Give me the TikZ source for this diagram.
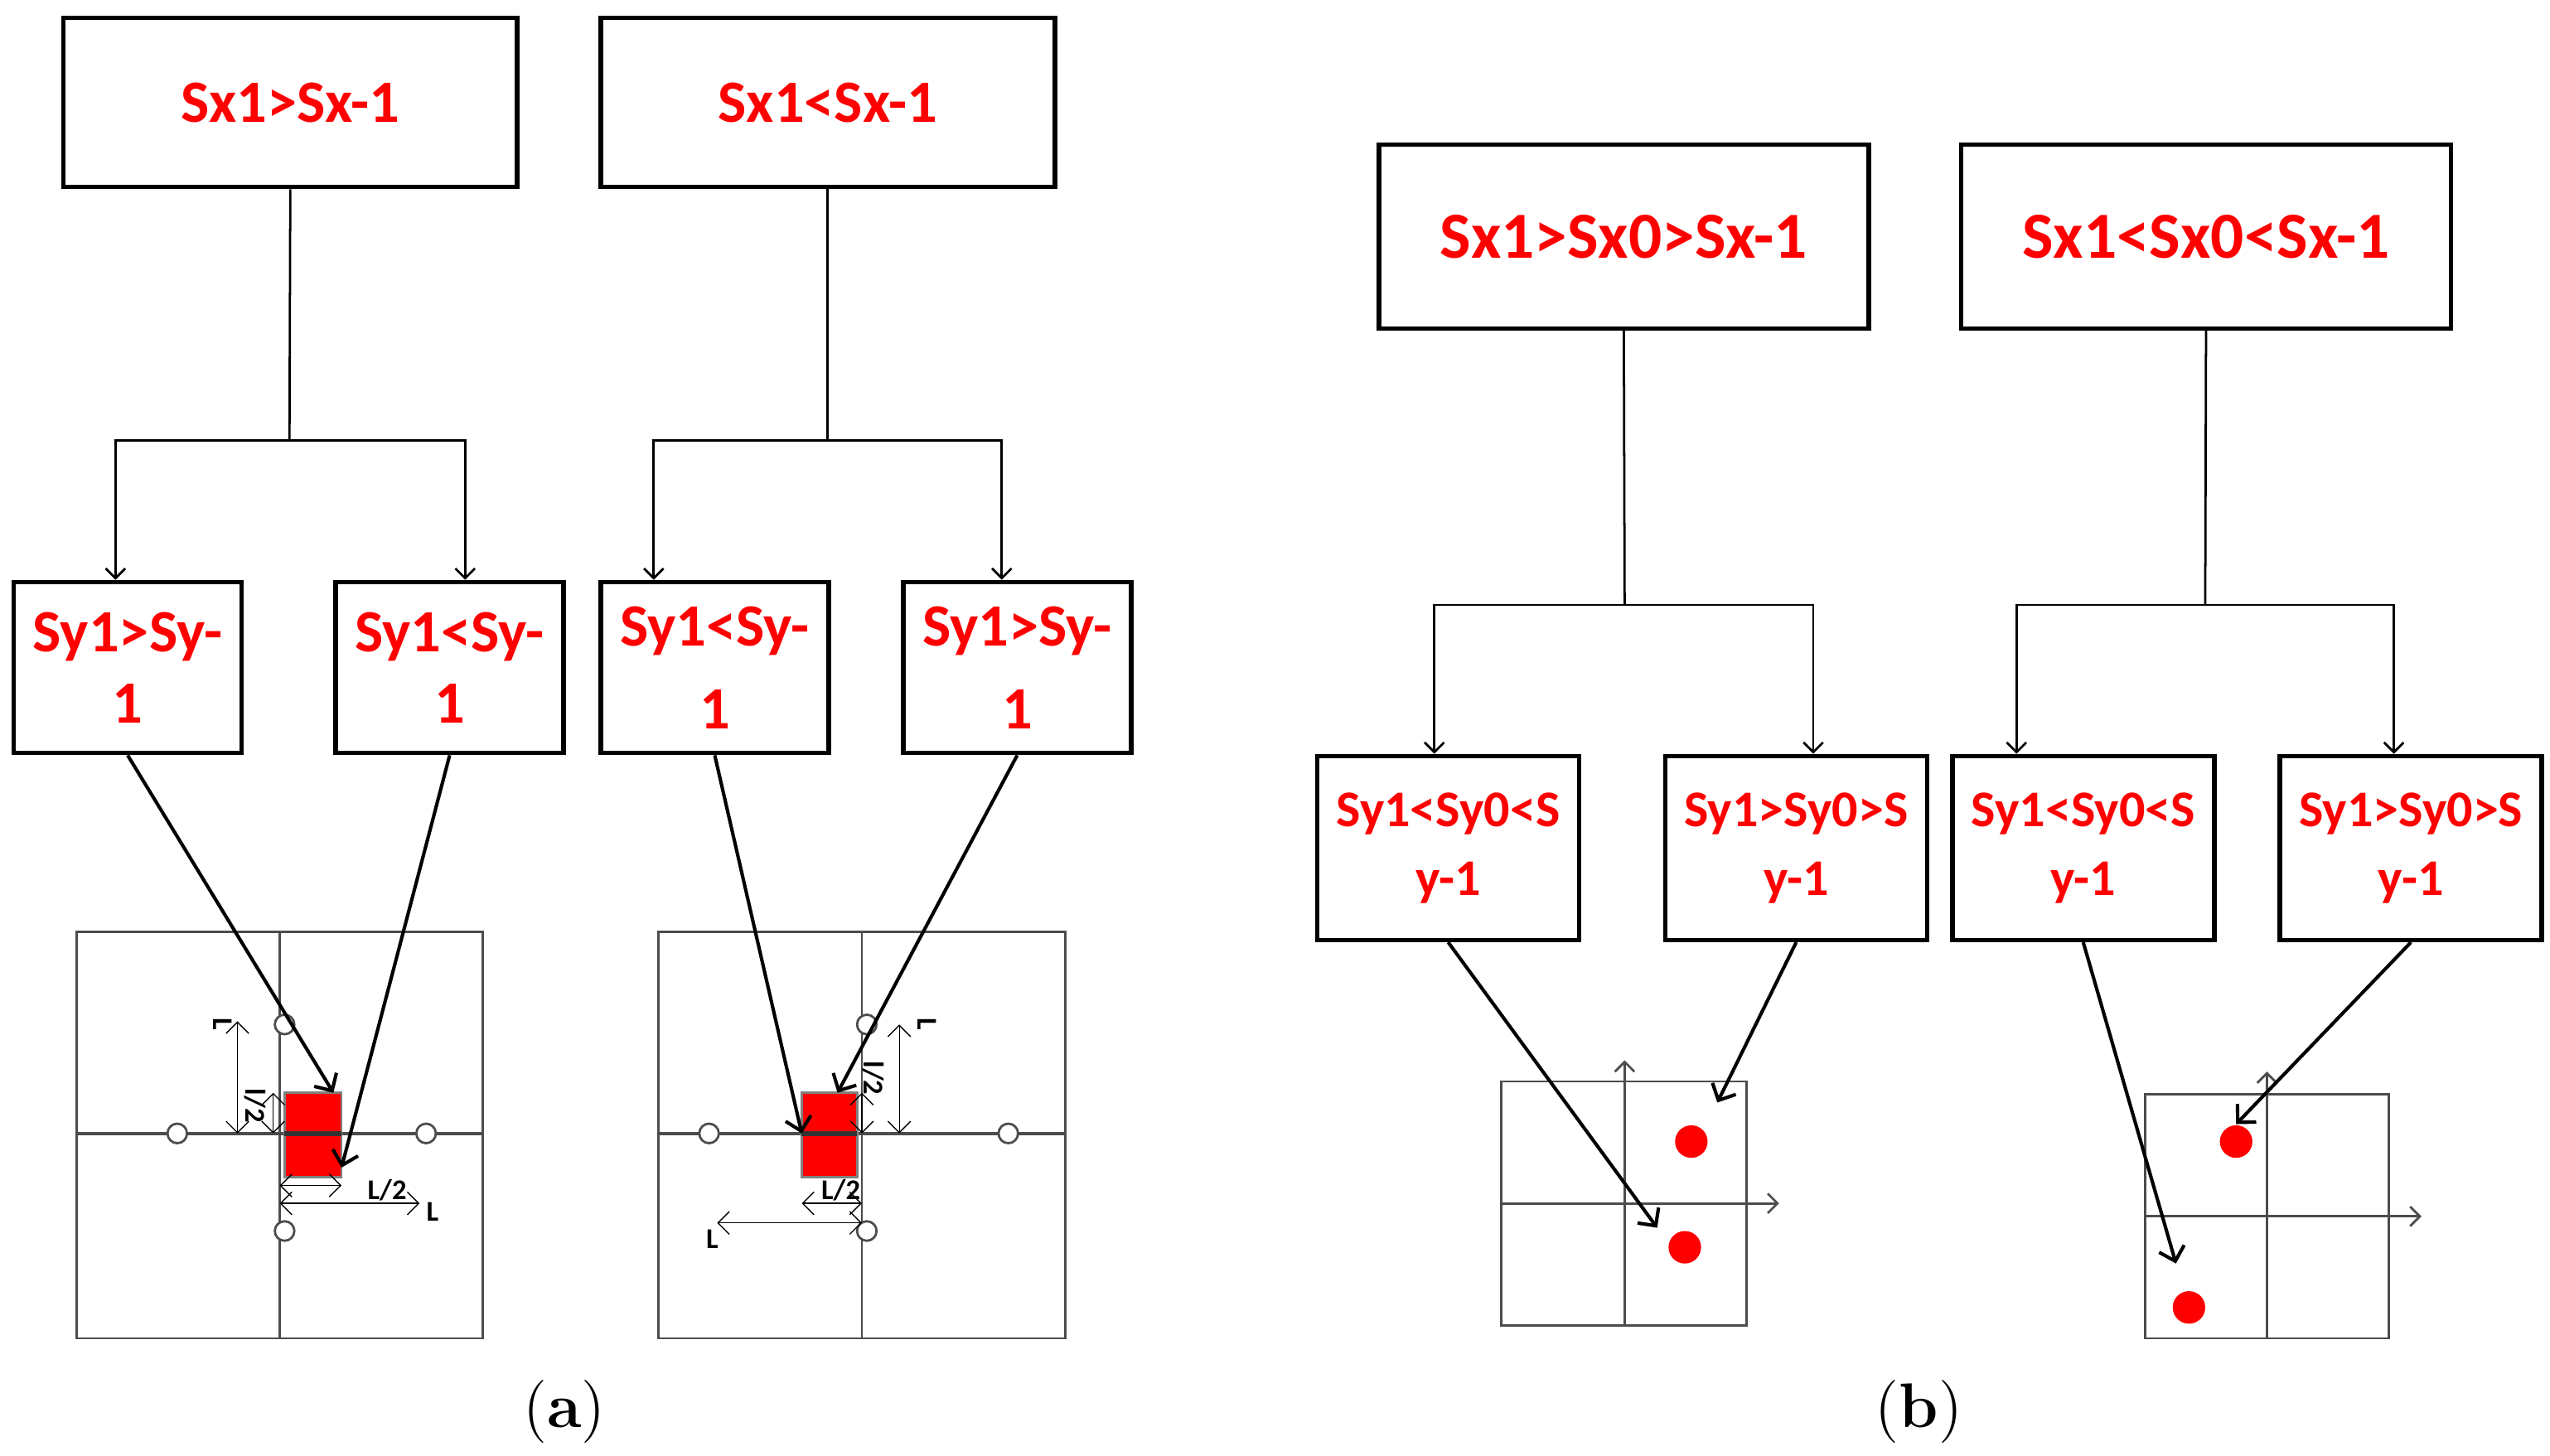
\documentclass[tikz,border=0pt]{standalone}
\usepackage{fontspec}
\newfontfamily\carlito{Carlito}
\usetikzlibrary{positioning,arrows.meta}
\tikzset{%
  tbox/.style = {rectangle,draw,thick,minimum width=2.79cm,minimum height=1.04cm,
        font=\carlito\bfseries\fontsize{10.5}{11}\selectfont,text=red},
  cbox/.style = {rectangle,draw,thick,minimum width=1.39cm,minimum height=1.05cm,
        font=\carlito\bfseries\fontsize{10.5}{12.5}\selectfont,text=red,align=center},
  wbox/.style = {rectangle,draw,thick,minimum width=3.01cm,minimum height=1.13cm,
        font=\carlito\bfseries\fontsize{11.5}{12}\selectfont,text=red},
  vbox/.style = {rectangle,draw,thick,minimum width=1.51cm,minimum height=1.13cm,
        font=\carlito\bfseries\fontsize{9}{12}\selectfont,text=red,align=center},
  tip/.style = {-{Straight Barb[length=0.6mm]},thin},
  link/.style = {-{Straight Barb[length=0.8mm]},semithick},
  dim/.style = {{Straight Barb[length=0.7mm]}-{Straight Barb[length=0.7mm]},very thin},
  grid/.style = {draw=black!70,thin},
  hole/.style = {circle,draw=black!70,fill=white,inner sep=0pt,minimum size=0.12cm},
  dot/.style = {circle,fill=red,inner sep=0pt,minimum size=0.2cm},
  tag/.style = {font=\carlito\bfseries\fontsize{5}{5}\selectfont,inner sep=0.5pt}
}
\begin{document}
\begin{tikzpicture}[x=0.01cm,y=-0.01cm]
\useasboundingbox (0,0) rectangle (1568,895);
% part (a)
\node[tbox] (sxa) at (178.5,63) {Sx1>Sx-1};
\node[tbox] (sxb) at (509,63) {Sx1<Sx-1};
\node[cbox] (sya) at (78.5,410.5) {Sy1>Sy-\\1};
\node[cbox] (syb) at (276.5,410.5) {Sy1<Sy-\\1};
\node[cbox] (syc) at (439.5,410.5) {Sy1<Sy-\\[2pt]1};
\node[cbox] (syd) at (625.5,410.5) {Sy1>Sy-\\[2pt]1};
\draw (sxa.south) -- (178,271) coordinate (ja);
\draw[tip] (ja) -| ([xshift=-0.075cm]sya.north);
\draw[tip] (ja) -| ([xshift=0.095cm]syb.north);
\draw (sxb.south) -- (509,271) coordinate (jb);
\draw[tip] (jb) -| ([xshift=-0.375cm]syc.north);
\draw[tip] (jb) -| ([xshift=-0.095cm]syd.north);
% grids
\foreach \gx in {47,405}{
  \draw[grid] (\gx,573) rectangle ++(250,250);
  \draw[grid] (\gx+125,573) -- ++(0,250);
  \draw[grid,semithick] (\gx,697) -- ++(250,0);
}
\node[rectangle,fill=red,draw=black!50,minimum width=0.35cm,minimum height=0.52cm,inner sep=0pt] (ra) at (192.5,698) {};
\node[rectangle,fill=red,draw=black!50,minimum width=0.34cm,minimum height=0.52cm,inner sep=0pt] (rb) at (510,698) {};
\draw[black!80,thick] (175,697) -- (210,697) (493,697) -- (527,697);
\foreach \n/\p in {a1/{175,630},a2/{109,697},a3/{262,697},a4/{175,757},
                   b1/{533,630},b2/{436,697},b3/{620,697},b4/{533,757}}
  \node[hole] (h\n) at (\p) {};
% dimensions left grid
\draw[dim] (146,628) -- (146,697);
\node[tag,rotate=-90] at (137,630) {L};
\draw[dim] (168,672) -- (168,697);
\node[tag,rotate=-90] at (157,680) {l/2};
\draw[dim] (172,729) -- (210,729);
\node[tag] at (238,732) {L/2};
\draw[dim] (172,740) -- (258,740);
\node[tag] at (266,745) {L};
% dimensions right grid
\draw[dim] (553,630) -- (553,697);
\node[tag,rotate=-90] at (570,630) {L};
\draw[dim] (530,672) -- (530,697);
\node[tag,rotate=-90] at (537,663) {l/2};
\draw[dim] (493,740) -- (530,740);
\node[tag] at (517,732) {L/2};
\draw[dim] (441,752) -- (530,752);
\node[tag] at (438,762) {L};
\coordinate (ea) at (205,672);
\coordinate (eb) at (210,718);
\coordinate (ec) at (493,697);
\coordinate (ed) at (515,672);
\draw[link] (sya.south) -- (ea);
\draw[link] (syb.south) -- (eb);
\draw[link] (syc.south) -- (ec);
\draw[link] (syd.south) -- (ed);
% part (b)
\node[wbox] (sxc) at (998.5,145.5) {Sx1>Sx0>Sx-1};
\node[wbox] (sxd) at (1356.5,145.5) {Sx1<Sx0<Sx-1};
\node[vbox] (sye) at (890.5,521.5) {Sy1<Sy0<S\\y-1};
\node[vbox] (syf) at (1104.5,521.5) {Sy1>Sy0>S\\y-1};
\node[vbox] (syg) at (1281,521.5) {Sy1<Sy0<S\\y-1};
\node[vbox] (syh) at (1482.5,521.5) {Sy1>Sy0>S\\y-1};
\draw (sxc.south) -- (999,372) coordinate (jc);
\draw[tip] (jc) -| ([xshift=-0.085cm]sye.north);
\draw[tip] (jc) -| ([xshift=0.105cm]syf.north);
\draw (sxd.south) -- (1356,372) coordinate (jd);
\draw[tip] (jd) -| ([xshift=-0.41cm]syg.north);
\draw[tip] (jd) -| ([xshift=-0.105cm]syh.north);
\draw[grid] (923,665) rectangle (1074,815);
\draw[grid,tip] (999,815) -- (999,652);
\draw[grid,tip] (923,740) -- (1094,740);
\node[dot] (da) at (1040,702) {};
\node[dot] (db) at (1036,767) {};
\draw[grid] (1319,673) rectangle (1469,823);
\draw[grid,tip] (1394,823) -- (1394,659);
\draw[grid,tip] (1319,748) -- (1489,748);
\node[dot] (dc) at (1375,702) {};
\node[dot] (dd) at (1346,804) {};
\coordinate (ee) at (1019,755);
\coordinate (ef) at (1056,678);
\coordinate (eg) at (1338,777);
\draw[link] (sye.south) -- (ee);
\draw[link] (syf.south) -- (ef);
\draw[link] (syg.south) -- (eg);
\draw[link] (syh.south) -- (dc.north);
% captions
\node[font=\fontsize{11}{12}\selectfont] (capa) at (347,868) {(\textbf{a})};
\node[font=\fontsize{11}{12}\selectfont] (capb) at (1180,868) {(\textbf{b})};
\end{tikzpicture}
\end{document}
